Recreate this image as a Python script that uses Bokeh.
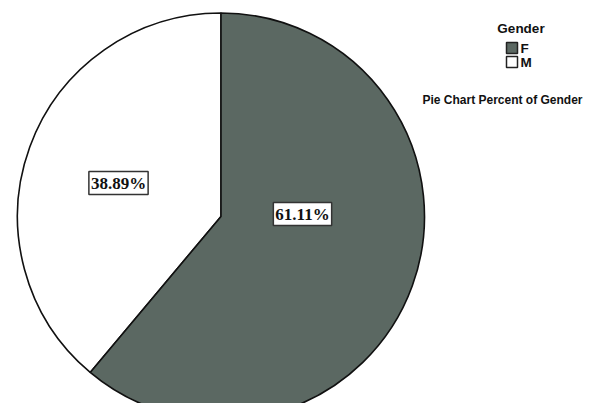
import math
from bokeh.plotting import figure
from bokeh.models import Range1d, ColumnDataSource
from bokeh.core.properties import value
from bokeh.embed import file_html
from bokeh.resources import INLINE

# ---- data ----
categories = ["F", "M"]
percents = [61.11, 38.89]
label_texts = ["61.11%", "38.89%"]
legend_title = "Gender"
chart_caption = "Pie Chart Percent of Gender"

# ---- style ----
colors = {"F": "#5b6862", "M": "#ffffff"}
W, H = 583, 403
cx, cy, R = 220.5, -216.0, 203.5

p = figure(width=W, height=H, output_backend="svg", toolbar_location=None,
           x_range=Range1d(0, W), y_range=Range1d(-H, 0),
           min_border=0, outline_line_color=None)
p.axis.visible = False
p.grid.visible = False
p.background_fill_color = "white"
p.border_fill_color = "white"

# wedges: start at 12 o'clock, go counterclockwise with M first
order = ["M", "F"]
total = sum(percents)
start = math.pi / 2
starts, ends, fills = [], [], []
for c in order:
    v = percents[categories.index(c)]
    a = 2 * math.pi * v / total
    starts.append(start)
    ends.append(start + a)
    fills.append(colors[c])
    start += a
src = ColumnDataSource(dict(x=[cx] * 2, y=[cy] * 2, s=starts, e=ends, f=fills))
p.wedge(x="x", y="y", radius=R, start_angle="s", end_angle="e",
        fill_color="f", line_color="#111111", line_width=1.6, source=src)

# percent labels (positions as layout)
label_pos = {"F": (302, -213.5), "M": (118, -182.5)}
lx = [label_pos[c][0] for c in categories]
ly = [label_pos[c][1] for c in categories]
p.text(x=lx, y=ly, text=label_texts, text_align="center", text_baseline="middle",
       text_font=value("Liberation Serif"), text_font_style="bold",
       text_font_size="17px", text_color="#111111",
       background_fill_color="white", border_line_color="#333333",
       border_line_width=1.5, padding=2)

# legend
p.text(x=[520.5], y=[-27.5], text=[legend_title], text_align="center",
       text_baseline="middle", text_font=value("Liberation Sans"),
       text_font_style="bold", text_font_size="13.5px", text_color="#111111")
sq_x = [511.5, 511.5]
sq_y = [-47.5, -61.5]
p.rect(x=sq_x, y=sq_y, width=11, height=11,
       fill_color=[colors[c] for c in categories], line_color="#222222", line_width=1.5)
p.text(x=[520, 520], y=[-48, -62], text=categories, text_align="left",
       text_baseline="middle", text_font=value("Liberation Sans"),
       text_font_style="bold", text_font_size="13.5px", text_color="#111111")
p.text(x=[502], y=[-99], text=[chart_caption], text_align="center",
       text_baseline="middle", text_font=value("Liberation Sans"),
       text_font_style="bold", text_font_size="12px", text_color="#111111")

open("out.html", "w").write(file_html(p, INLINE))
